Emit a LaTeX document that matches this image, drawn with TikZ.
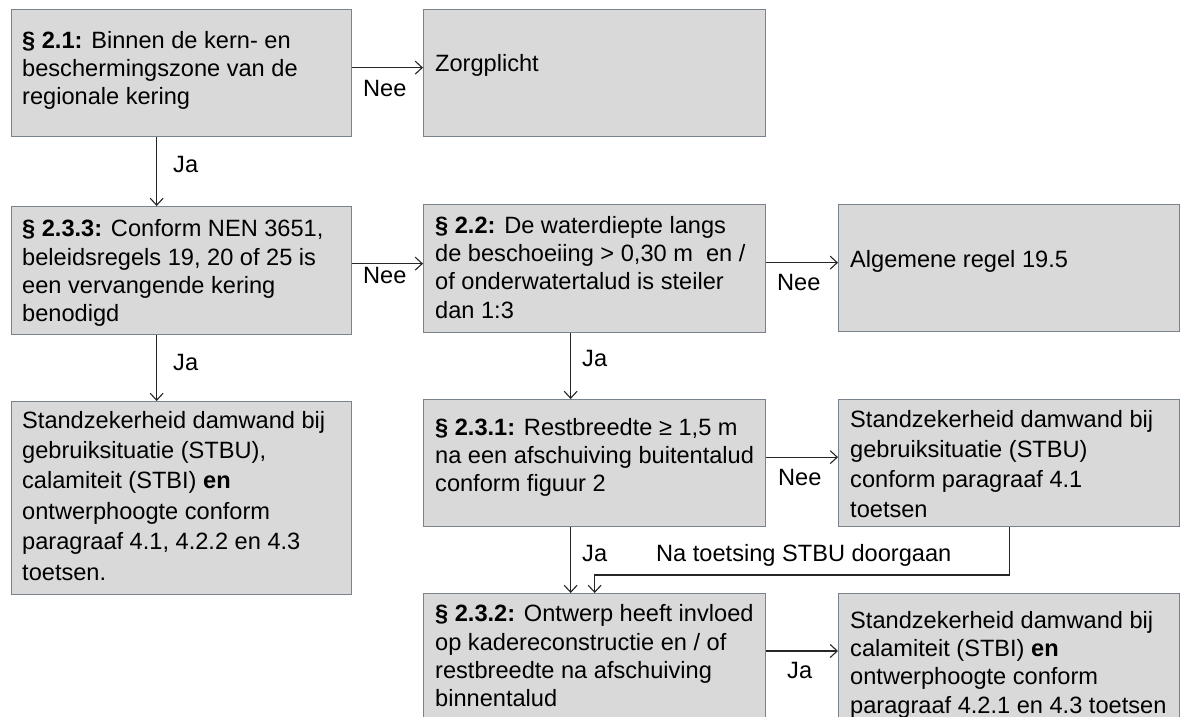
\documentclass[tikz,border=0pt]{standalone}
\usepackage{fontspec}
\setmainfont{Liberation Sans}
\usetikzlibrary{arrows.meta,calc}
\definecolor{boxfill}{HTML}{D9D9D9}
\definecolor{boxline}{HTML}{7A828C}
\begin{document}
\begin{tikzpicture}[x=1bp,y=-1bp,
  box/.style={draw=boxline, fill=boxfill, line width=1.3bp, anchor=north west, inner sep=0pt},
  txt/.style={anchor=base west, align=left, inner sep=0pt, font=\fontsize{23.6bp}{28.3bp}\selectfont},
  lbl/.style={anchor=base west, inner sep=0pt, font=\fontsize{23.6bp}{28.3bp}\selectfont},
  arr/.style={draw=black!85, line width=1.1bp, -{Straight Barb[length=7bp,width=13bp]}}]
\fill[white] (0,0) rectangle (1180,717);
\useasboundingbox (0,0) rectangle (1180,717);
\clip (0,0) rectangle (1180,717);
% boxes
\node[box,minimum width=340bp,minimum height=127bp] (A) at (11,9) {};
\node[box,minimum width=342bp,minimum height=127bp] (B) at (423,9) {};
\node[box,minimum width=340bp,minimum height=128bp] (C) at (11,206) {};
\node[box,minimum width=342bp,minimum height=128bp] (D) at (423,204) {};
\node[box,minimum width=341bp,minimum height=127bp] (E) at (838,204) {};
\node[box,minimum width=340bp,minimum height=193bp] (F) at (11,401) {};
\node[box,minimum width=342bp,minimum height=127bp] (G) at (423,399) {};
\node[box,minimum width=341bp,minimum height=127bp] (H) at (838,399) {};
\node[box,minimum width=342bp,minimum height=150bp] (I) at (423,593) {};
\node[box,minimum width=341bp,minimum height=150bp] (J) at (838,593) {};
% texts (base anchor = baseline of the last line)
\node[txt] (At) at (22,104.9) {\textbf{§ 2.1:} Binnen de kern- en\\beschermingszone van de\\regionale kering};
\node[txt] (Bt) at (435,71.7) {Zorgplicht};
\node[txt] (Ct) at (22,321.6) {\textbf{§ 2.3.3:} Conform NEN 3651,\\beleidsregels 19, 20 of 25 is\\een vervangende kering\\benodigd};
\node[txt] (Dt) at (435,318.2) {\textbf{§ 2.2:} De waterdiepte langs\\de beschoeiing > 0,30 m\ \ en /\\of onderwatertalud is steiler\\dan 1:3};
\node[txt] (Et) at (850,267.3) {Algemene regel 19.5};
\node[txt,font=\fontsize{23.6bp}{30.4bp}\selectfont] (Ft) at (22,580) {Standzekerheid damwand bij\\gebruiksituatie (STBU),\\calamiteit (STBI) \textbf{en}\\ontwerphoogte conform\\paragraaf 4.1, 4.2.2 en 4.3\\toetsen.};
\node[txt] (Gt) at (435,491.6) {\textbf{§ 2.3.1:} Restbreedte ≥ 1,5 m\\na een afschuiving buitentalud\\conform figuur 2};
\node[txt,font=\fontsize{23.6bp}{29.7bp}\selectfont] (Ht) at (850,517) {Standzekerheid damwand bij\\gebruiksituatie (STBU)\\conform paragraaf 4.1\\toetsen};
\node[txt] (It) at (435,706.6) {\textbf{§ 2.3.2:} Ontwerp heeft invloed\\op kadereconstructie en / of\\restbreedte na afschuiving\\binnentalud};
\node[txt] (Jt) at (850,713) {Standzekerheid damwand bij\\calamiteit (STBI) \textbf{en}\\ontwerphoogte conform\\paragraaf 4.2.1 en 4.3 toetsen};
% connectors
\path ($(A.east)+(0,-5.5)$) coordinate (ab);
\draw[arr] (ab) -- (ab -| B.west);
\path ($(A.south)+(-25,0)$) coordinate (ac);
\draw[arr] (ac) -- (ac |- C.north);
\path ($(C.east)+(0,-7)$) coordinate (cd);
\draw[arr] (cd) -- (cd -| D.west);
\path ($(D.east)+(0,-6)$) coordinate (de);
\draw[arr] (de) -- (de -| E.west);
\path ($(C.south)+(-25,0)$) coordinate (cf);
\draw[arr] (cf) -- (cf |- F.north);
\path ($(D.south)+(-24,0)$) coordinate (dg);
\draw[arr] (dg) -- (dg |- G.north);
\path ($(G.east)+(0,-6)$) coordinate (gh);
\draw[arr] (gh) -- (gh -| H.west);
\path ($(G.south)+(-24,0)$) coordinate (gi);
\draw[arr] (gi) -- (gi |- I.north);
\path ($(I.north)+(0,-18)$) coordinate (hi);
\draw[arr] (H.south) |- (hi) -- (I.north);
\path ($(I.north east)+(0,58)$) coordinate (ij);
\draw[arr] (ij) -- (ij -| J.west);
% labels
\node[lbl] (l1) at (363,96.7) {Nee};
\node[lbl] (l2) at (173,173) {Ja};
\node[lbl] (l3) at (363,283) {Nee};
\node[lbl] (l4) at (777,290) {Nee};
\node[lbl] (l5) at (173,370) {Ja};
\node[lbl] (l6) at (582,366.7) {Ja};
\node[lbl] (l7) at (778,485) {Nee};
\node[lbl] (l8) at (582,561.7) {Ja};
\node[lbl] (l9) at (656,561.7) {Na toetsing STBU doorgaan};
\node[lbl] (l10) at (787,678) {Ja};
\end{tikzpicture}
\end{document}
